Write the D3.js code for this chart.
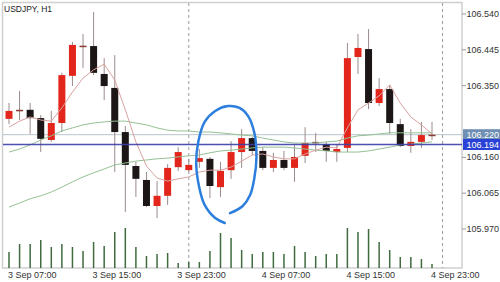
<!DOCTYPE html>
<html>
<head>
<meta charset="utf-8">
<script src="https://cdn.jsdelivr.net/npm/d3@7"></script>
<style>
body { margin: 0; background: #fff; }
svg { display: block; font-family: "Liberation Sans", Arial, sans-serif; }
</style>
</head>
<body>
<svg width="500" height="282"></svg>
<script>
// USDJPY H1, 3 Sep 07:00 .. 4 Sep 23:00 (one value per hour)
var open  = [106.262,106.285,106.286,106.264,106.206,106.251,106.376,106.455,106.455,106.381,106.344,106.227,106.137,106.100,106.031,106.058,106.134,106.126,106.148,106.156,106.081,106.126,106.174,106.211,106.177,106.132,106.153,106.132,106.164,106.199,106.195,106.174,106.185,106.426,106.447,106.304,106.341,106.248,106.190,106.201,106.219];
var high  = [106.304,106.336,106.304,106.272,106.283,106.384,106.466,106.487,106.545,106.423,106.431,106.243,106.148,106.121,106.097,106.142,106.187,106.156,106.182,106.161,106.148,106.203,106.235,106.214,106.187,106.172,106.177,106.193,106.240,106.225,106.201,106.195,106.463,106.487,106.500,106.370,106.352,106.262,106.235,106.254,106.254];
var low   = [106.248,106.259,106.222,106.174,106.201,106.227,106.349,106.397,106.378,106.312,106.121,106.015,106.055,106.028,105.999,106.034,106.124,106.121,106.132,106.052,106.055,106.103,106.132,106.166,106.126,106.121,106.126,106.095,106.145,106.174,106.148,106.148,106.174,106.381,106.288,106.296,106.222,106.187,106.172,106.185,106.206];
var close = [106.283,106.286,106.264,106.209,106.251,106.378,106.458,106.456,106.384,106.349,106.227,106.140,106.103,106.031,106.058,106.132,106.174,106.140,106.158,106.084,106.124,106.174,106.211,106.177,106.132,106.153,106.132,106.161,106.198,106.201,106.177,106.182,106.423,106.450,106.304,106.341,106.251,106.190,106.201,106.219,106.220];
var volume = [800,1200,1200,1400,1050,1200,1050,850,1300,1100,1800,2000,1050,600,700,750,250,300,300,850,1750,1500,900,700,800,800,700,1100,800,600,700,700,2000,1800,1950,1300,900,550,550,450,200];

// moving averages
var maFast = [106.240,106.256,106.267,106.259,106.256,106.291,106.333,106.370,106.392,106.407,106.365,106.286,106.201,106.137,106.105,106.097,106.103,106.108,106.121,106.126,106.126,106.134,106.150,106.166,106.169,106.161,106.156,106.156,106.169,106.179,106.187,106.185,106.238,106.286,106.304,106.323,106.352,106.304,106.267,106.246,106.222];
var maMid  = [106.174,106.182,106.193,106.206,106.217,106.230,106.238,106.246,106.251,106.254,106.256,106.256,106.251,106.246,106.238,106.232,106.230,106.230,106.227,106.227,106.225,106.222,106.219,106.217,106.211,106.206,106.201,106.198,106.198,106.198,106.201,106.203,106.211,106.217,106.219,106.222,106.225,106.225,106.225,106.225,106.225];
var maSlow = [106.028,106.039,106.050,106.058,106.068,106.081,106.095,106.108,106.119,106.129,106.140,106.145,106.150,106.153,106.156,106.158,106.161,106.164,106.166,106.172,106.177,106.179,106.182,106.185,106.187,106.187,106.187,106.185,106.182,106.179,106.177,106.174,106.174,106.174,106.177,106.182,106.187,106.193,106.195,106.198,106.201];

var priceTicks = [106.540, 106.445, 106.350, 106.160, 106.065, 105.970];
var timeLabels = ["3 Sep 07:00", "3 Sep 15:00", "3 Sep 23:00", "4 Sep 07:00", "4 Sep 15:00", "4 Sep 23:00"];
var timeLabelIdx = [0, 8, 16, 24, 32, 40];
var daySeparators = [17, 41];
var bidPrice = 106.220;
var linePrice = 106.194;

// hand drawn loop (candle index, price)
var loopIdx   = [20.9, 22.1, 22.8, 23.2, 23.4, 23.2, 22.6, 21.8, 20.7, 19.5, 18.5, 17.9, 17.7, 18.0, 18.5, 19.5, 20.4];
var loopPrice = [106.012, 106.031, 106.060, 106.105, 106.161, 106.225, 106.270, 106.291, 106.296, 106.283, 106.254, 106.201, 106.145, 106.079, 106.034, 105.999, 105.986];

var svg = d3.select("svg");
var plotR = 462, plotB = 268;

var x = d3.scaleLinear().domain([0, 40]).range([9, 432]);
var y = d3.scaleLinear().domain([105.970, 106.540]).range([229, 14]);
var vy = d3.scaleLinear().domain([0, 2000]).range([plotB, 228]);

var idx = d3.range(open.length);

// frame
svg.append("rect")
    .attr("x", 2.5).attr("y", 2.5)
    .attr("width", plotR - 2.5).attr("height", plotB - 2.5)
    .attr("fill", "none").attr("stroke", "#cfcfcf").attr("stroke-width", 1.5);

// day separators
svg.selectAll(".sep").data(daySeparators).enter().append("line")
    .attr("x1", function(d) { return x(d); }).attr("x2", function(d) { return x(d); })
    .attr("y1", 3).attr("y2", plotB)
    .attr("stroke", "#9a9a9a").attr("stroke-width", 1).attr("stroke-dasharray", "3,3");

// bid line
svg.append("line")
    .attr("x1", 3).attr("x2", plotR).attr("y1", y(bidPrice)).attr("y2", y(bidPrice))
    .attr("stroke", "#b7c3cc").attr("stroke-width", 1);

// volumes
svg.selectAll(".vol").data(idx).enter().append("line")
    .attr("x1", function(i) { return x(i); }).attr("x2", function(i) { return x(i); })
    .attr("y1", vy(0)).attr("y2", function(i) { return vy(volume[i]); })
    .attr("stroke", "#3f6b3f").attr("stroke-width", 1.5);

// wicks
svg.selectAll(".wick").data(idx).enter().append("line")
    .attr("x1", function(i) { return x(i); }).attr("x2", function(i) { return x(i); })
    .attr("y1", function(i) { return y(high[i]); })
    .attr("y2", function(i) { return y(low[i]); })
    .attr("stroke", "#9c8b8b").attr("stroke-width", 1);

// bodies
svg.selectAll(".body").data(idx).enter().append("rect")
    .attr("x", function(i) { return x(i) - 3.5; })
    .attr("width", 7)
    .attr("y", function(i) { return y(Math.max(open[i], close[i])); })
    .attr("height", function(i) { return Math.max(1.5, Math.abs(y(open[i]) - y(close[i]))); })
    .attr("fill", function(i) {
      var h = Math.abs(y(open[i]) - y(close[i]));
      if (h < 1.5) return "#8a3b32";
      return close[i] >= open[i] ? "#e3261c" : "#1c1616";
    });

// moving averages
var line = d3.line().x(function(d, i) { return x(i); }).y(function(d) { return y(d); });
svg.append("path").datum(maSlow).attr("d", line)
    .attr("fill", "none").attr("stroke", "#95c195").attr("stroke-width", 1);
svg.append("path").datum(maMid).attr("d", line)
    .attr("fill", "none").attr("stroke", "#95c195").attr("stroke-width", 1);
svg.append("path").datum(maFast).attr("d", line)
    .attr("fill", "none").attr("stroke", "#d9a3a0").attr("stroke-width", 1);

// horizontal level
svg.append("line")
    .attr("x1", 3).attr("x2", plotR).attr("y1", y(linePrice)).attr("y2", y(linePrice))
    .attr("stroke", "#3b3fa8").attr("stroke-width", 1.5).attr("opacity", 0.9);

// freehand loop
var loopLine = d3.line()
    .x(function(d) { return x(d[0]); })
    .y(function(d) { return y(d[1]); })
    .curve(d3.curveCatmullRom);
svg.append("path")
    .datum(d3.zip(loopIdx, loopPrice))
    .attr("d", loopLine)
    .attr("fill", "none").attr("stroke", "#2d7fdd").attr("stroke-width", 2.5)
    .attr("stroke-linecap", "round");

// price axis
var ticks = svg.selectAll(".ptick").data(priceTicks).enter().append("g")
    .attr("transform", function(d) { return "translate(0," + y(d) + ")"; });
ticks.append("line").attr("x1", plotR).attr("x2", plotR + 4).attr("stroke", "#999");
ticks.append("text")
    .attr("x", plotR + 4.5).attr("dy", "0.35em")
    .attr("font-size", 9).attr("fill", "#333")
    .text(function(d) { return d.toFixed(3); });

// price boxes
[[bidPrice, "#6e8fb3"], [linePrice, "#2941d6"]].forEach(function(p) {
  var g = svg.append("g").attr("transform", "translate(0," + y(p[0]) + ")");
  g.append("rect").attr("x", plotR + 1).attr("y", -5.5).attr("width", 500 - plotR - 1).attr("height", 11)
      .attr("fill", p[1]);
  g.append("text").attr("x", plotR + 4.5).attr("dy", "0.35em")
      .attr("font-size", 9).attr("fill", "#fff")
      .text(p[0].toFixed(3));
});

// time axis
svg.selectAll(".tlabel").data(timeLabels).enter().append("text")
    .attr("x", function(d, i) { return x(timeLabelIdx[i]) - 1; })
    .attr("y", 278)
    .attr("font-size", 9).attr("fill", "#333")
    .text(function(d) { return d; });

// title
svg.append("text").attr("x", 4).attr("y", 12)
    .attr("font-size", 8.5).attr("fill", "#222")
    .text("USDJPY, H1");
</script>
</body>
</html>
